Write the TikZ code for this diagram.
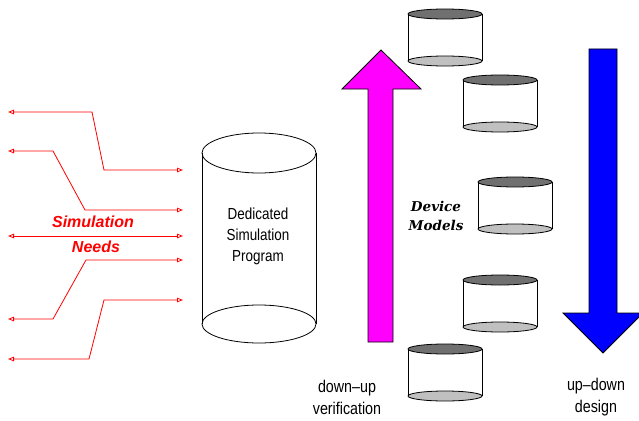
\documentclass[tikz,border=0pt]{standalone}
\usepackage{fontspec}
\setmainfont{Liberation Sans}
\newfontfamily\narrowsans[FakeStretch=0.84]{Liberation Sans}
\newfontfamily\modelfont{DejaVu Serif}
\usetikzlibrary{arrows.meta}

\definecolor{needred}{RGB}{255,0,0}
\definecolor{upmagenta}{RGB}{255,0,255}
\definecolor{downblue}{RGB}{0,0,255}
\definecolor{topgray}{RGB}{112,112,112}
\definecolor{basegray}{RGB}{192,192,192}

\tikzset{
  needline/.style={draw=needred, line width=0.8pt,
    {Triangle[open,length=6pt,width=4.5pt]}-{Triangle[open,length=6pt,width=4.5pt]}},
  needtext/.style={text=needred, inner sep=0pt,
    font=\fontsize{16}{18}\selectfont\bfseries\itshape},
  plainlabel/.style={align=center, inner sep=0pt,
    font=\narrowsans\fontsize{17}{22}\selectfont},
  bigarrow/.style={draw=black, line width=0.8pt},
  outline/.style={draw=black, line width=0.8pt},
  % small model database drawn as a short cylinder
  pics/modelcyl/.style={code={
    \node[minimum width=74pt, minimum height=47pt, inner sep=0pt] (-body) at (0,23.5) {};
    \fill[white] (-37,0) rectangle (37,47);
    \draw[outline, fill=basegray] (0,47) ellipse [x radius=37, y radius=5];
    \draw[outline] (-37,0) -- (-37,47) (37,0) -- (37,47);
    \draw[outline, fill=topgray] (0,0) ellipse [x radius=37, y radius=5];
  }}
}

\begin{document}
\begin{tikzpicture}[x=1pt, y=-1pt]
\useasboundingbox (0,0) rectangle (639,420);

% dedicated simulation program cylinder
\node[plainlabel, font=\narrowsans\fontsize{16}{21}\selectfont] (dsp) at (258,236)
  {Dedicated\\Simulation\\Program};
\draw[outline] (259,153) ellipse [x radius=57, y radius=20];
\draw[outline] (259,324) ellipse [x radius=57, y radius=19];
\draw[outline] (202,153) -- (202,324) (316,153) -- (316,324);

% simulation needs connectors
\coordinate (a1) at (8,112);  \coordinate (b1) at (183,170);
\coordinate (a2) at (8,151);  \coordinate (b2) at (183,210);
\coordinate (a3) at (8,236);  \coordinate (b3) at (183,236);
\coordinate (a4) at (8,319);  \coordinate (b4) at (183,260);
\coordinate (a5) at (8,359);  \coordinate (b5) at (183,300);
\draw[needline] (a1) -- (92,112) -- (104,170) -- (b1);
\draw[needline] (a2) -- (53,151) -- (85,210) -- (b2);
\draw[needline] (a3) -- (b3);
\draw[needline] (a4) -- (53,319) -- (86,260) -- (b4);
\draw[needline] (a5) -- (89,359) -- (104,300) -- (b5);
\node[needtext] (sim) at (93,222) {Simulation};
\node[needtext] (needs) at (96,247) {Needs};

% upward verification arrow
\filldraw[bigarrow, fill=upmagenta] (368,342) -- (368,89) -- (342,89) -- (381,50)
  -- (421,89) -- (393,89) -- (393,342) -- cycle;
\node[plainlabel] (ver) at (347,397) {down–up\\verification};

% device models
\pic (m1) at (445,14)  {modelcyl};
\pic (m2) at (500,80)  {modelcyl};
\pic (m3) at (515,182) {modelcyl};
\pic (m4) at (500,280) {modelcyl};
\pic (m5) at (445,349) {modelcyl};
\node[align=center, inner sep=0pt,
  font=\modelfont\bfseries\itshape\fontsize{13.5}{18.5}\selectfont] (dm) at (436,216)
  {Device\\Models};

% downward design arrow
\begin{scope}
\clip (0,0) rectangle (639,420);
\filldraw[bigarrow, fill=downblue] (589,49) -- (617,49) -- (617,313) -- (643,313)
  -- (603,353) -- (563,313) -- (589,313) -- cycle;
\end{scope}
\node[plainlabel] (des) at (596,397) {up–down\\design};
\end{tikzpicture}
\end{document}
